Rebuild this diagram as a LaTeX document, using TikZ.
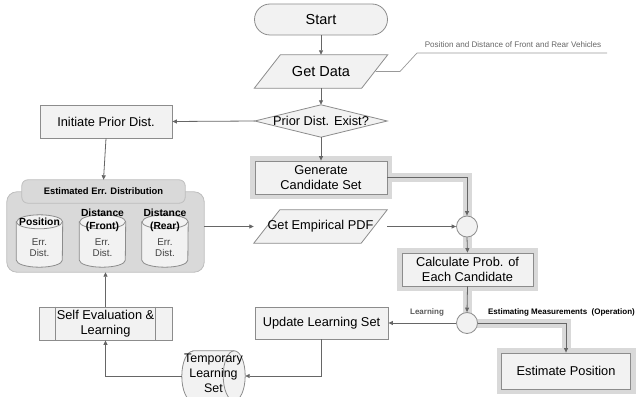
\documentclass[tikz,border=0pt]{standalone}
\usepackage{fontspec}
\setmainfont{Liberation Sans}
\usetikzlibrary{arrows.meta,backgrounds}
\definecolor{boxfill}{HTML}{F2F2F2}
\definecolor{boxline}{HTML}{8C8C8C}
\definecolor{connc}{HTML}{666666}
\definecolor{haloc}{HTML}{D9D9D9}
\definecolor{grpfill}{HTML}{D9D9D9}
\definecolor{grpline}{HTML}{BDBDBD}
\tikzset{
  fbig/.style={font=\fontsize{14.5}{16}\selectfont},
  fmid/.style={font=\fontsize{12.8}{14.5}\selectfont},
  box/.style={draw=boxline, fill=boxfill, line width=0.8pt, inner sep=0pt, align=center, fmid},
  hbox/.style={box, preaction={draw=haloc, line width=10pt}},
  bare/.style={inner sep=0pt, align=center, fmid},
  arr/.style={draw=connc, line width=0.8pt, -{Triangle[length=4.5pt,width=4pt]}},
  haloline/.style={draw=haloc, line width=9pt},
  shp/.style={draw=boxline, fill=boxfill, line width=0.8pt},
  cyltitle/.style={inner sep=0pt, align=center, font=\fontsize{10.3}{13}\selectfont\bfseries},
  errtxt/.style={inner sep=0pt, align=center, text=black!75, font=\fontsize{9.8}{11}\selectfont},
  smalllbl/.style={inner sep=0pt, font=\fontsize{8}{9}\selectfont\bfseries},
}
\begin{document}
\begin{tikzpicture}[x=1pt,y=1pt]
\useasboundingbox (0,0) rectangle (636,-396);
\clip (0,0) rectangle (636,-396);

% main column
\node[box, fbig, rounded corners=15.5pt, minimum width=133pt, minimum height=31pt] (start) at (321,-19.5) {Start};
\node[bare, fbig, minimum width=133pt, minimum height=33pt] (gd) at (321,-71.5) {Get Data};
\node[bare, minimum width=132pt, minimum height=32pt] (dia) at (321,-121) {Prior Dist. Exist?};
\node[box, minimum width=132pt, minimum height=33pt] (init) at (106,-121.5) {Initiate Prior Dist.};
\node[hbox, minimum width=132pt, minimum height=33pt] (gen) at (321,-177.5) {Generate\\Candidate Set};
\node[bare, minimum width=133pt, minimum height=33pt] (gpdf) at (320.5,-226.5) {Get Empirical PDF};
\node[circle, draw=boxline, fill=boxfill, line width=0.8pt, minimum size=21pt, inner sep=0pt] (c1) at (467,-226.5) {};
\node[hbox, minimum width=131pt, minimum height=33pt] (calc) at (467.5,-269.5) {Calculate Prob. of\\Each Candidate};
\node[circle, draw=boxline, fill=boxfill, line width=0.8pt, minimum size=21pt, inner sep=0pt] (c2) at (467,-323) {};
\node[hbox, minimum width=129pt, minimum height=36pt] (est) at (566,-371) {Estimate Position};
\node[box, minimum width=133pt, minimum height=32pt] (upd) at (321.5,-323) {Update Learning Set};
\node[box, minimum width=133pt, minimum height=33pt] (self) at (105.5,-323.5) {Self Evaluation \&\\Learning};
\draw[boxline, line width=0.8pt] ([xshift=17pt]self.north west) -- ([xshift=17pt]self.south west);
\draw[boxline, line width=0.8pt] ([xshift=-17pt]self.north east) -- ([xshift=-17pt]self.south east);
\node[inner sep=0pt, minimum width=63pt, minimum height=50pt] (tmp) at (213.5,-376) {};
\node[bare, font=\fontsize{12.4}{14.8}\selectfont] (tmpt) at (213.5,-373.5) {Temporary\\Learning\\Set};

% group
\node[inner sep=0pt, minimum width=197pt, minimum height=80pt] (grp) at (105.5,-232) {};
\node[inner sep=0pt, minimum width=163pt, minimum height=23pt, font=\fontsize{9.4}{11}\selectfont\bfseries] (hdr) at (103.5,-191.5) {Estimated Err. Distribution};
\node[inner sep=0pt, minimum width=46pt, minimum height=52pt] (cy1) at (39.5,-241) {};
\node[inner sep=0pt, minimum width=46pt, minimum height=52pt] (cy2) at (102.5,-241) {};
\node[inner sep=0pt, minimum width=46pt, minimum height=52pt] (cy3) at (165,-241) {};
\node[cyltitle] (t1) at (39.5,-222) {Position};
\node[cyltitle] (t2) at (102.5,-220.5) {Distance\\(Front)};
\node[cyltitle] (t3) at (165,-220.5) {Distance\\(Rear)};
\node[errtxt] (e1) at (39.5,-247.5) {Err.\\Dist.};
\node[errtxt] (e2) at (102.5,-247.5) {Err.\\Dist.};
\node[errtxt] (e3) at (165,-247.5) {Err.\\Dist.};

% labels
\node[smalllbl, text=black!65] (lrn) at (427,-312) {Learning};
\node[smalllbl, anchor=east] (emo) at (635,-312) {Estimating Measurements\ \ (Operation)};
\node[inner sep=0pt, text=black!60, font=\fontsize{8.1}{9}\selectfont] (annt) at (513,-45) {Position and Distance of Front and Rear Vehicles};
\coordinate (a0) at ([xshift=-12pt]gd.east);
\coordinate (a1) at (400,-71.5);
\coordinate (a2) at (417,-53);
\coordinate (a3) at (607,-53);
\draw[black!40, line width=0.7pt] (a0) -- (a1) -- (a2) -- (a3);

% backgrounds
\begin{scope}[on background layer]
  \draw[haloline] (gen.east) -| (c1.center) -- (c2.center) -| (est.north);
  \filldraw[shp] ([xshift=26pt]gd.north west) -- (gd.north east) -- ([xshift=-26pt]gd.south east) -- (gd.south west) -- cycle;
  \filldraw[shp] ([xshift=26pt]gpdf.north west) -- (gpdf.north east) -- ([xshift=-26pt]gpdf.south east) -- (gpdf.south west) -- cycle;
  \filldraw[shp] (dia.west) -- (dia.north) -- (dia.east) -- (dia.south) -- cycle;
  \filldraw[shp] ([xshift=11pt]tmp.north west) -- ([xshift=-11pt]tmp.north east)
     arc[start angle=90, end angle=-90, x radius=11pt, y radius=25pt]
     -- ([xshift=11pt]tmp.south west)
     arc[start angle=270, end angle=90, x radius=11pt, y radius=25pt] -- cycle;
  \draw[boxline, line width=0.8pt] ([xshift=-11pt]tmp.north east) arc[start angle=90, end angle=270, x radius=11pt, y radius=25pt];
  \filldraw[draw=grpline, fill=grpfill, line width=0.8pt, rounded corners=10pt] (grp.north west) rectangle (grp.south east);
  \filldraw[draw=grpline, fill=grpfill, line width=0.8pt, rounded corners=6pt] (hdr.north west) rectangle (hdr.south east);
  \foreach \c in {cy1,cy2,cy3}{
    \filldraw[shp] ([yshift=-7pt]\c.north west) -- ([yshift=7pt]\c.south west)
      arc[start angle=180, end angle=360, x radius=23pt, y radius=7pt]
      -- ([yshift=-7pt]\c.north east)
      arc[start angle=0, end angle=180, x radius=23pt, y radius=7pt] -- cycle;
    \draw[boxline, line width=0.8pt] ([yshift=-7pt]\c.north west) arc[start angle=180, end angle=360, x radius=23pt, y radius=7pt];
  }
\end{scope}

% connectors
\draw[arr] (start.south) -- (gd.north);
\draw[arr] (gd.south) -- (dia.north);
\draw[arr] (dia.west) -- (init.east);
\draw[arr] (dia.south) -- (gen.north);
\draw[arr] (init.south) -- (hdr.north);
\draw[arr] (grp.east |- gpdf.west) -- (gpdf.west);
\draw[arr] (gpdf.east) -- (c1.west);
\draw[arr] (gen.east) -| (c1.north);
\draw[arr] (c1.south) -- (calc.north);
\draw[arr] (calc.south) -- (c2.north);
\draw[arr] (c2.west) -- (upd.east);
\draw[arr] (c2.east) -| (est.north);
\draw[arr] (upd.south) |- (tmp.east);
\draw[arr] (tmp.west) -| (self.south);
\draw[arr] (self.north) -- (grp.south);
\end{tikzpicture}
\end{document}
